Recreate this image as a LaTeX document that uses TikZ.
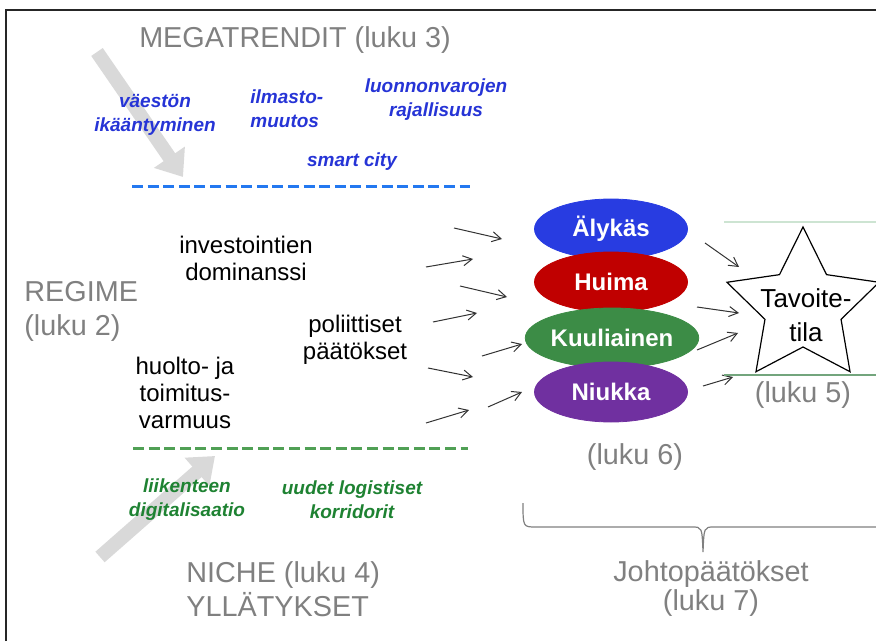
\documentclass[tikz,border=0pt]{standalone}
\usepackage{fontspec}
\setmainfont{Liberation Sans}
\usepackage{tikz}
\usetikzlibrary{shapes.geometric,arrows.meta}
\definecolor{labelgray}{RGB}{128,128,128}
\definecolor{trendblue}{RGB}{38,52,214}
\definecolor{dashblue}{RGB}{35,120,240}
\definecolor{nichegreen}{RGB}{30,130,50}
\definecolor{dashgreen}{RGB}{80,160,85}
\definecolor{arrowgray}{RGB}{217,217,217}
\definecolor{alykasblue}{RGB}{40,60,225}
\definecolor{huimared}{RGB}{192,0,0}
\definecolor{kuuligreen}{RGB}{60,140,70}
\definecolor{niukkapurple}{RGB}{112,48,160}
\definecolor{goaltop}{RGB}{205,228,210}
\definecolor{goalbottom}{RGB}{115,165,125}

\begin{document}
\begin{tikzpicture}[x=0.5pt, y=-0.5pt,
    graylabel/.style={text=labelgray, font=\fontsize{14.4}{17}\selectfont, align=left, inner sep=0pt},
    trend/.style={text=trendblue, font=\fontsize{9.5}{12}\selectfont\bfseries\itshape, align=center, inner sep=0pt},
    niche/.style={trend, text=nichegreen},
    regime/.style={font=\fontsize{12}{13.5}\selectfont, align=center, inner sep=0pt},
    scenario/.style={ellipse, minimum width=76.5pt, minimum height=30pt, inner sep=0pt, text=white, font=\fontsize{12}{14}\selectfont\bfseries},
    bigarrow/.style={line width=7pt, draw=arrowgray, -{Triangle[length=12pt,width=18pt]}},
    thinarrow/.style={-{Straight Barb[length=4.5pt,width=5pt]}, line width=0.5pt, draw=black!80},
    level/.style={line width=1.5pt, dash pattern=on 5.5pt off 2.3pt}]
    \useasboundingbox (0,0) rectangle (876,641);

    % frame
    \draw[line width=1pt, black!85] (6,641) -- (6,10) -- (876,10);

    % big gray arrows
    \draw[bigarrow] (97,52) -- (183,177);
    \draw[bigarrow] (100,557) -- (215,456);

    % megatrends
    \node[graylabel] (mega) at (295,40) {MEGATRENDIT (luku 3)};
    \node[trend] (vaesto) at (155,115) {väestön\\ikääntyminen};
    \node[trend, align=left, anchor=west] (ilmasto) at (250,109) {ilmasto-\\muutos};
    \node[trend] (luonnon) at (436,100) {luonnonvarojen\\rajallisuus};
    \node[trend] (smart) at (352,162) {smart city};
    \draw[level, dashblue] (132,187) -- (470,187);

    % regime
    \node[graylabel, anchor=west] (regime) at (24,311) {REGIME\\(luku 2)};
    \node[regime] (invest) at (246,258) {investointien\\dominanssi};
    \node[regime] (poliit) at (355,340) {poliittiset\\päätökset};
    \node[regime] (huolto) at (185,393) {huolto- ja\\toimitus-\\varmuus};

    % niche
    \draw[level, dashgreen] (133,448) -- (468,448);
    \node[niche] (liikenne) at (187,500) {liikenteen\\digitalisaatio};
    \node[niche] (logist) at (352,500) {uudet logistiset\\korridorit};
    \node[graylabel, anchor=west] (nichehead) at (186,589) {NICHE (luku 4)\\YLLÄTYKSET};

    % scenarios
    \node[scenario, fill=alykasblue, draw=alykasblue] (alykas) at (611,229) {Älykäs};
    \node[scenario, fill=huimared, draw=huimared] (huima) at (611,282) {Huima};
    \node[scenario, fill=kuuligreen, draw=kuuligreen] (kuuliainen) at (612,338) {Kuuliainen};
    \node[scenario, fill=niukkapurple, draw=niukkapurple] (niukka) at (611,392) {Niukka};
    \node[graylabel] (luku6) at (635,457) {(luku 6)};

    % small arrows
    \foreach \i/\a/\b/\c/\d in {1/454/228/502/239, 2/426/267/473/259, 3/460/286/507/297,
        4/433/322/477/313, 5/482/356/522/344, 6/428/368/473/377, 7/488/407/522/392,
        8/426/423/469/410, 9/705/243/739/267, 10/697/307/739/313, 11/697/350/738/333,
        12/703/386/733/377} {
        \coordinate (s\i) at (\a,\b);
        \coordinate (e\i) at (\c,\d);
        \draw[thinarrow] (s\i) -- (e\i);
    }

    % goal
    \draw[goaltop, line width=0.6pt] (724,222) -- (876,222);
    \draw[goalbottom, line width=0.6pt] (724,375) -- (876,375);
    \node[draw, star, star points=5, star point ratio=2.0, minimum size=80pt, inner sep=0pt, line width=0.6pt] (goal) at (803,307) {};
    \node[font=\fontsize{13}{17}\selectfont, align=center, inner sep=0pt] (goaltext) at (806,315) {Tavoite-\\tila};
    \node[graylabel] (luku5) at (803,395) {(luku 5)};

    % conclusions
    \draw[labelgray, line width=0.6pt] (523,503) .. controls (523,527) .. (536,527) -- (692,527)
        .. controls (702,527) .. (703,552) .. controls (704,527) .. (714,527) -- (880,527);
    \node[graylabel, align=center, font=\fontsize{14.4}{14.5}\selectfont] (johto) at (711,589) {Johtopäätökset\\(luku 7)};
\end{tikzpicture}
\end{document}
